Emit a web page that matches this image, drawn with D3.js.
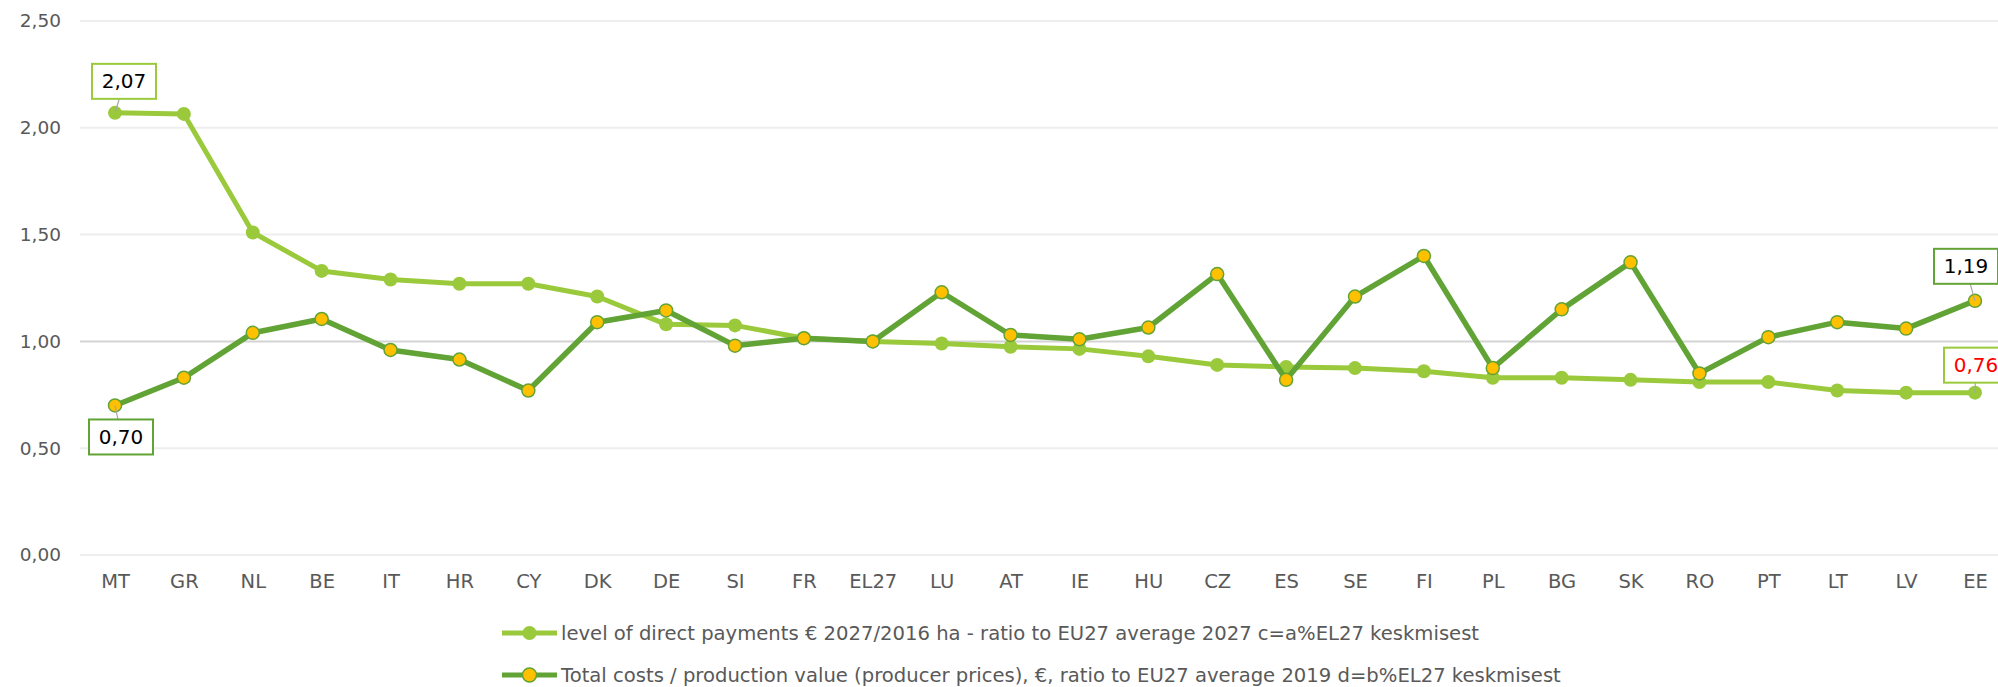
<!DOCTYPE html>
<html>
<head>
<meta charset="utf-8">
<script src="https://cdn.jsdelivr.net/npm/d3@7"></script>
<style>
  body { margin: 0; background: #fff; }
  svg { display: block; font-family: "DejaVu Sans", sans-serif; }
  .tick text { fill: #595959; }
</style>
</head>
<body>
<div class="chart"></div>
<script>
// countries on the x axis
const countries = ["MT","GR","NL","BE","IT","HR","CY","DK","DE","SI","FR","EL27","LU","AT","IE","HU","CZ","ES","SE","FI","PL","BG","SK","RO","PT","LT","LV","EE"];

// level of direct payments, ratio to EU27 average
const directPayments = [2.07,2.065,1.51,1.33,1.29,1.27,1.27,1.21,1.08,1.075,1.015,1.00,0.99,0.975,0.965,0.93,0.89,0.88,0.875,0.86,0.83,0.83,0.82,0.81,0.81,0.77,0.76,0.76];

// total costs / production value, ratio to EU27 average
const totalCosts = [0.70,0.83,1.04,1.105,0.96,0.915,0.77,1.09,1.145,0.98,1.015,1.00,1.23,1.03,1.01,1.065,1.315,0.82,1.21,1.40,0.875,1.15,1.37,0.85,1.02,1.09,1.06,1.19];

const yTicks = [0, 0.5, 1, 1.5, 2, 2.5];

const seriesNames = [
  "level of direct payments € 2027/2016 ha - ratio to EU27 average 2027 c=a%EL27 keskmisest",
  "Total costs / production value (producer prices), €, ratio to EU27 average 2019 d=b%EL27 keskmisest"
];

const width = 1998, height = 687;
const lightGreen = "#9aca3c", darkGreen = "#62a336", yellow = "#ffc000";

const svg = d3.select(".chart").append("svg")
    .attr("width", width)
    .attr("height", height);

const x = d3.scalePoint()
    .domain(countries)
    .range([115, 1975]);
const y = d3.scaleLinear()
    .domain([0, 2.5])
    .range([555, 21]);

const fmt = v => d3.format(".2f")(v).replace(".", ",");

// gridlines
svg.append("g")
    .selectAll("line")
    .data(yTicks)
    .join("line")
    .attr("x1", 80).attr("x2", width)
    .attr("y1", d => y(d)).attr("y2", d => y(d))
    .attr("stroke", d => d === 1 ? "#d4d4d4" : "#eeeeee")
    .attr("stroke-width", 2);

// y axis
const yAxis = d3.axisLeft(y)
    .tickValues(yTicks)
    .tickFormat(fmt)
    .tickSize(0)
    .tickPadding(0);
svg.append("g")
    .attr("transform", "translate(61,0)")
    .call(yAxis)
    .call(g => g.select(".domain").remove())
    .selectAll("text")
    .style("font-size", "18.5px")
    .style("font-family", "DejaVu Sans");

// x axis
const xAxis = d3.axisBottom(x).tickSize(0).tickPadding(0);
svg.append("g")
    .attr("transform", "translate(0,574)")
    .call(xAxis)
    .call(g => g.select(".domain").remove())
    .selectAll("text")
    .attr("dy", "0.7em")
    .style("font-size", "19.5px")
    .style("font-family", "DejaVu Sans");

const line = d3.line()
    .x((d, i) => x(countries[i]))
    .y(d => y(d));

// series 1
svg.append("path")
    .datum(directPayments)
    .attr("fill", "none")
    .attr("stroke", lightGreen)
    .attr("stroke-width", 5)
    .attr("stroke-linejoin", "round")
    .attr("d", line);
svg.append("g")
    .selectAll("circle")
    .data(directPayments)
    .join("circle")
    .attr("cx", (d, i) => x(countries[i]))
    .attr("cy", d => y(d))
    .attr("r", 7)
    .attr("fill", lightGreen);

// series 2
svg.append("path")
    .datum(totalCosts)
    .attr("fill", "none")
    .attr("stroke", darkGreen)
    .attr("stroke-width", 5.5)
    .attr("stroke-linejoin", "round")
    .attr("d", line);
svg.append("g")
    .selectAll("circle")
    .data(totalCosts)
    .join("circle")
    .attr("cx", (d, i) => x(countries[i]))
    .attr("cy", d => y(d))
    .attr("r", 6.5)
    .attr("fill", yellow)
    .attr("stroke", darkGreen)
    .attr("stroke-width", 1.5);

// data labels (index, series, offset of box centre from the point)
const labels = [
  {i: 0, data: directPayments, border: lightGreen, color: "#000", dx: 9, dy: -32},
  {i: 0, data: totalCosts, border: darkGreen, color: "#000", dx: 6, dy: 31},
  {i: 27, data: totalCosts, border: darkGreen, color: "#000", dx: -9, dy: -35},
  {i: 27, data: directPayments, border: lightGreen, color: "#ff0000", dx: 1, dy: -28}
];
const lbl = svg.append("g").selectAll("g")
    .data(labels)
    .join("g")
    .attr("transform", d => `translate(${x(countries[d.i]) + d.dx},${y(d.data[d.i]) + d.dy})`);
lbl.append("line")
    .attr("x1", d => -d.dx).attr("y1", d => -d.dy)
    .attr("x2", d => -d.dx * 0.4).attr("y2", d => -d.dy * 0.45)
    .attr("stroke", "#a6a6a6")
    .attr("stroke-width", 1.2);
lbl.append("rect")
    .attr("x", -32).attr("y", -17)
    .attr("width", 64).attr("height", 35)
    .attr("fill", "#fff")
    .attr("stroke", d => d.border)
    .attr("stroke-width", 2);
lbl.append("text")
    .attr("text-anchor", "middle")
    .attr("dy", "0.38em")
    .style("font-size", "20px")
    .attr("fill", d => d.color)
    .text(d => fmt(d.data[d.i]));

// legend
const legend = svg.append("g")
    .selectAll("g")
    .data(seriesNames)
    .join("g")
    .attr("transform", (d, i) => `translate(502,${633 + i * 42})`);
legend.append("line")
    .attr("x1", 0).attr("x2", 55)
    .attr("stroke", (d, i) => i === 0 ? lightGreen : darkGreen)
    .attr("stroke-width", 5);
legend.append("circle")
    .attr("cx", 27.5)
    .attr("r", 7)
    .attr("fill", (d, i) => i === 0 ? lightGreen : yellow)
    .attr("stroke", (d, i) => i === 0 ? "none" : darkGreen)
    .attr("stroke-width", 1.5);
legend.append("text")
    .attr("x", 59)
    .attr("dy", "0.36em")
    .style("font-size", "19.6px")
    .attr("fill", "#595959")
    .text(d => d);
</script>
</body>
</html>
